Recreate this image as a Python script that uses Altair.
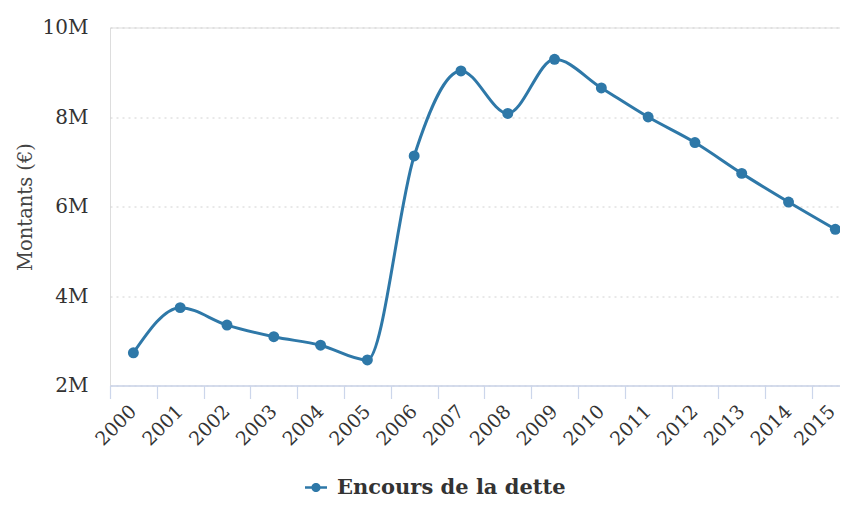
import altair as alt
import pandas as pd

years = list(range(2000, 2016))
values = [2.73e6, 3.74e6, 3.35e6, 3.09e6, 2.90e6, 2.57e6, 7.13e6, 9.03e6,
          8.08e6, 9.29e6, 8.65e6, 8.00e6, 7.43e6, 6.74e6, 6.10e6, 5.49e6]
series_name = "Encours de la dette"
y_ticks = [2e6, 4e6, 6e6, 8e6, 10e6]

COLOR = "#2e78a8"
FONT = "DejaVu Serif"

df = pd.DataFrame({"year": years, "value": values, "series": series_name})

half_ticks = [y - 0.5 for y in years]
x_values = sorted(half_ticks + years)

x_enc = alt.X(
    "year:Q",
    scale=alt.Scale(domain=[1999.5, 2015.1], nice=False, zero=False),
    axis=alt.Axis(
        values=x_values,
        labelExpr="datum.value % 1 === 0 ? '' + datum.value : ''",
        labelAngle=-45,
        labelAlign="right",
        labelBaseline="bottom",
        labelOverlap=False,
        labelFlush=False,
        labelFont=FONT,
        labelFontSize=19,
        labelColor="#333333",
        labelPadding=16.5,
        labelOffset={"condition": {"test": "datum.value === 2015", "value": 3.3}, "value": 6.5},
        tickSize=13,
        tickColor="#ccd6eb",
        tickWidth=1.2,
        tickOpacity={"condition": {"test": "datum.value % 1 === 0", "value": 0}, "value": 1},
        domainColor="#ccd6eb",
        domainWidth=1.5,
        grid=False,
        title=None,
    ),
)

y_enc = alt.Y(
    "value:Q",
    scale=alt.Scale(domain=[2e6, 10e6], nice=False, zero=False),
    axis=alt.Axis(
        values=y_ticks,
        labelExpr="(datum.value / 1000000) + 'M'",
        labelFont=FONT,
        labelFontSize=20,
        labelColor="#333333",
        labelPadding=22,
        ticks=False,
        tickSize=0,
        domain=False,
        grid=True,
        gridColor="#d2d2d2",
        gridDash=[2, 4],
        gridWidth=1,
        title="Montants (€)",
        titleFont=FONT,
        titleFontSize=19.5,
        titleFontWeight="normal",
        titleColor="#444444",
        titleAngle=-90,
        titleX=-85,
        titleY=179,
        titleAlign="center",
        titleBaseline="middle",
    ),
)

legend_symbol = ("M-1,-0.12L1,-0.12L1,0.12L-1,0.12Z "
                 "M0.42,0A0.42,0.42,0,1,1,-0.42,0A0.42,0.42,0,1,1,0.42,0Z")

line = alt.Chart(df).mark_line(
    interpolate="monotone", strokeWidth=3, color=COLOR
).encode(x=x_enc, y=y_enc)

points = alt.Chart(df).mark_point(
    filled=True, size=120, opacity=1, shape="circle"
).encode(
    x=x_enc,
    y=y_enc,
    color=alt.Color(
        "series:N",
        scale=alt.Scale(range=[COLOR]),
        legend=alt.Legend(
            title=None,
            orient="none",
            legendX=195,
            legendY=449,
            direction="horizontal",
            symbolType=legend_symbol,
            symbolSize=484,
            symbolFillColor=COLOR,
            symbolStrokeWidth=0,
            symbolOpacity=1,
            labelFont=FONT,
            labelFontSize=21,
            labelFontWeight="bold",
            labelColor="#333333",
            labelOffset=10,
            labelLimit=0,
            padding=0,
        ),
    ),
)

chart = alt.layer(line, points).properties(
    width=730,
    height=358,
    autosize=alt.AutoSizeParams(type="none"),
    padding={"left": 102, "top": 19.5, "right": 0, "bottom": 115.5},
).configure_view(stroke=None).configure(background="white")

chart.save("out.html", embed_options={"renderer": "svg", "actions": False})
